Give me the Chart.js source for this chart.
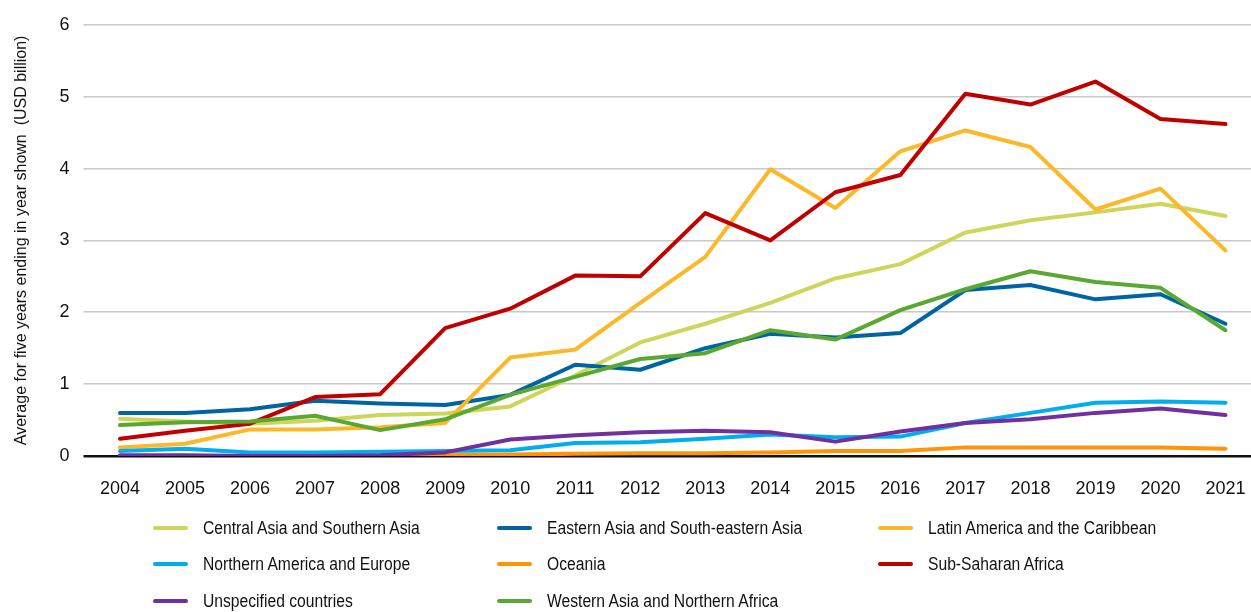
<!DOCTYPE html>
<html>
<head>
    <meta charset="UTF-8">
    <title>Five-year averages by region</title>
    <style>
        body {
            margin: 0;
            background-color: white;
            overflow: hidden;
        }
        #wrap {
            position: relative;
            width: 1260px;
            height: 612px;
        }
        #legend {
            position: absolute;
            left: 0;
            top: 0;
            font-family: "Liberation Sans", sans-serif;
            font-size: 17.5px;
            color: #111;
        }
        .item {
            position: absolute;
            white-space: nowrap;
            line-height: 20px;
        }
        .swatch {
            position: absolute;
            left: 0;
            top: 8px;
            width: 35px;
            height: 4px;
            border-radius: 2px;
        }
        .item span.txt {
            position: absolute;
            left: 50px;
            top: 0;
            transform: scaleX(0.895);   /* the original uses a condensed face */
            transform-origin: left center;
        }
    </style>
    <script src="https://cdn.jsdelivr.net/npm/chart.js"></script>
</head>
<body>
<div id="wrap">
    <canvas id="lineChart" width="1260" height="612"></canvas>
    <div id="legend"></div>
</div>
<script>
    // values, USD billion
    const years = ['2004', '2005', '2006', '2007', '2008', '2009', '2010', '2011', '2012',
        '2013', '2014', '2015', '2016', '2017', '2018', '2019', '2020', '2021'];

    const centralSouthAsia = [0.52, 0.48, 0.45, 0.49, 0.57, 0.59, 0.69, 1.12, 1.58, 1.84, 2.13, 2.47, 2.67, 3.11, 3.28, 3.39, 3.51, 3.34];
    const easternAsia = [0.60, 0.60, 0.65, 0.77, 0.73, 0.71, 0.85, 1.27, 1.20, 1.50, 1.70, 1.65, 1.71, 2.31, 2.38, 2.18, 2.25, 1.84];
    const latinAmerica = [0.12, 0.17, 0.37, 0.37, 0.40, 0.46, 1.37, 1.48, 2.13, 2.77, 3.99, 3.45, 4.24, 4.53, 4.30, 3.43, 3.72, 2.86];
    const northAmEurope = [0.07, 0.10, 0.05, 0.05, 0.06, 0.07, 0.08, 0.18, 0.19, 0.24, 0.30, 0.26, 0.27, 0.46, 0.60, 0.74, 0.76, 0.74];
    const oceania = [0, 0, 0, 0, 0, 0.01, 0.02, 0.03, 0.04, 0.04, 0.05, 0.07, 0.07, 0.12, 0.12, 0.12, 0.12, 0.10];
    const subSaharan = [0.24, 0.35, 0.45, 0.82, 0.86, 1.78, 2.05, 2.51, 2.50, 3.38, 3.00, 3.67, 3.91, 5.04, 4.89, 5.21, 4.69, 4.62];
    const unspecified = [0.01, 0.01, 0, 0, 0.01, 0.05, 0.23, 0.29, 0.33, 0.35, 0.33, 0.20, 0.34, 0.46, 0.51, 0.60, 0.66, 0.57];
    const westernAsia = [0.43, 0.47, 0.48, 0.56, 0.36, 0.51, 0.85, 1.10, 1.35, 1.43, 1.75, 1.62, 2.03, 2.32, 2.57, 2.42, 2.34, 1.75];

    const seriesNames = ['Central Asia and Southern Asia', 'Eastern Asia and South-eastern Asia',
        'Latin America and the Caribbean', 'Northern America and Europe', 'Oceania',
        'Sub-Saharan Africa', 'Unspecified countries', 'Western Asia and Northern Africa'];
    const seriesData = [centralSouthAsia, easternAsia, latinAmerica, northAmEurope, oceania,
        subSaharan, unspecified, westernAsia];
    const seriesColors = ['#cdd55b', '#0064a2', '#fbb829', '#00aeef', '#ff9408',
        '#c00000', '#7030a0', '#5aa832'];

    const yTicks = [0, 1, 2, 3, 4, 5, 6];

    const datasets = [];
    for (let i = 0; i < seriesNames.length; i++) {
        datasets.push({
            label: seriesNames[i],
            data: seriesData[i],
            borderColor: seriesColors[i],
            backgroundColor: seriesColors[i],
            borderWidth: 4,
            pointRadius: 0,
            tension: 0,
            fill: false,
            borderJoinStyle: 'round',
            borderCapStyle: 'round',
            order: seriesNames.length - i   // later series on top, like the original
        });
    }

    const tickFont = { family: '"Liberation Sans", sans-serif', size: 18 };

    const config = {
        type: 'line',
        data: { labels: years, datasets: datasets },
        options: {
            responsive: false,
            animation: false,
            layout: { padding: { top: 24, right: 2, bottom: 106, left: 0 } },
            plugins: {
                legend: { display: false },
                tooltip: { enabled: false }
            },
            scales: {
                x: {
                    offset: true,
                    grid: { display: false },
                    border: { display: false },
                    ticks: { color: '#111', font: tickFont, padding: 14, maxRotation: 0 },
                    afterFit: function (scale) { scale.height = 50; }
                },
                y: {
                    min: 0,
                    max: 6,
                    afterBuildTicks: function (scale) {
                        scale.ticks = yTicks.map(function (v) { return { value: v }; });
                    },
                    grid: {
                        color: function (ctx) { return ctx.tick.value === 0 ? '#111' : '#c8c8c8'; },
                        lineWidth: function (ctx) { return ctx.tick.value === 0 ? 2.5 : 1.6; },
                        tickLength: 4
                    },
                    border: { display: false },
                    ticks: { color: '#111', font: tickFont, padding: 14 },
                    title: {
                        display: true,
                        text: 'Average for five years ending in year shown  (USD billion)',
                        color: '#111',
                        font: { family: '"Liberation Sans", sans-serif', size: 16 },
                        padding: { top: 12, bottom: 0 }
                    },
                    afterFit: function (scale) { scale.width = 87.5; }
                }
            }
        }
    };

    const chart = new Chart(document.getElementById('lineChart'), config);

    // legend in three columns, built from the chart's datasets
    const legendCols = [153, 497, 878];
    const legendRows = [518, 554, 591];
    const legendBox = document.getElementById('legend');
    chart.data.datasets.forEach(function (ds, i) {
        const item = document.createElement('div');
        item.className = 'item';
        item.style.left = legendCols[i % 3] + 'px';
        item.style.top = legendRows[Math.floor(i / 3)] + 'px';
        const sw = document.createElement('div');
        sw.className = 'swatch';
        sw.style.backgroundColor = ds.borderColor;
        const txt = document.createElement('span');
        txt.className = 'txt';
        txt.textContent = ds.label;
        item.appendChild(sw);
        item.appendChild(txt);
        legendBox.appendChild(item);
    });
</script>
</body>
</html>
